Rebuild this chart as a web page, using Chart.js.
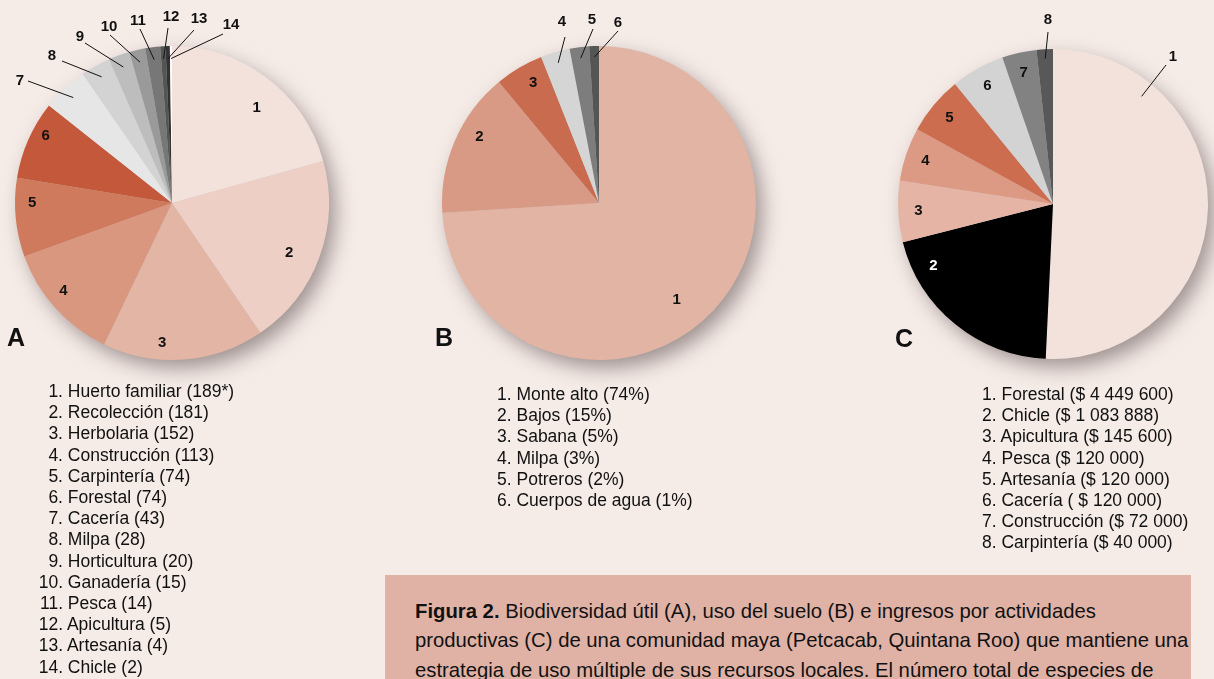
<!DOCTYPE html>
<html>
<head>
<meta charset="utf-8">
<script src="https://cdn.jsdelivr.net/npm/chart.js@4"></script>
<style>
body { margin: 0; width: 1214px; height: 679px; overflow: hidden; position: relative;
       background: #f5ebe7; font-family: "Liberation Sans", Arial, sans-serif; color: #111; }
canvas { position: absolute; }
.tag { position: absolute; font-weight: bold; font-size: 25px; line-height: 25px; }
.list { position: absolute; font-size: 17.5px; line-height: 21.2px; white-space: nowrap; }
.list .n { display: inline-block; text-align: right; }
.caption { position: absolute; left: 385px; top: 575px; width: 806px; height: 120px; background: #e0b2a6; }
.caption p { position: absolute; margin: 0; left: 30px; top: 22px; font-size: 20.3px; line-height: 29.3px; white-space: nowrap; }
</style>
</head>
<body>
<canvas id="pieA" width="420" height="420"></canvas>
<canvas id="pieB" width="420" height="420"></canvas>
<canvas id="pieC" width="420" height="420"></canvas>

<div class="tag" style="left:7px;top:325px">A</div>
<div class="tag" style="left:435px;top:325px">B</div>
<div class="tag" style="left:895px;top:326px">C</div>

<div class="list" id="listA" style="left:38px;top:381px"></div>
<div class="list" id="listB" style="left:497px;top:384px"></div>
<div class="list" id="listC" style="left:982px;top:384px"></div>

<div class="caption"><p><b>Figura 2.</b> Biodiversidad útil (A), uso del suelo (B) e ingresos por actividades<br>productivas (C) de una comunidad maya (Petcacab, Quintana Roo) que mantiene una<br>estrategia de uso múltiple de sus recursos locales. El número total de especies de</p></div>

<script>
// A: useful biodiversity (number of species per use)
const speciesUses = ['Huerto familiar', 'Recolección', 'Herbolaria', 'Construcción', 'Carpintería', 'Forestal', 'Cacería',
    'Milpa', 'Horticultura', 'Ganadería', 'Pesca', 'Apicultura', 'Artesanía', 'Chicle'];
const speciesCounts = [189, 181, 152, 113, 74, 74, 43, 28, 20, 15, 14, 5, 4, 2];

// B: land use (%)
const landUses = ['Monte alto', 'Bajos', 'Sabana', 'Milpa', 'Potreros', 'Cuerpos de agua'];
const landPercent = [74, 15, 5, 3, 2, 1];

// C: income by activity
const incomeActivities = ['Forestal', 'Chicle', 'Apicultura', 'Pesca', 'Artesanía', 'Cacería', 'Construcción', 'Carpintería'];
const incomeAmounts = ['$ 4 449 600', '$ 1 083 888', '$ 145 600', '$ 120 000', '$ 120 000', ' $ 120 000', '$ 72 000', '$ 40 000'];
// the slices in the figure are not drawn to the amounts above; share of the circle (%) as drawn
const incomeDrawnShare = [50.8, 20.3, 6.4, 5.6, 6.1, 5.6, 3.6, 1.7];

const coloursA = ['#f3e1db', '#edcfc5', '#e3b5a5', '#d9977f', '#d07a5d', '#c3593a', '#e6e6e6',
    '#d3d3d3', '#bdbdbd', '#9a9a9a', '#777777', '#555555', '#333333', '#ffffff'];
const coloursB = ['#e1b4a4', '#d89a84', '#c96b4e', '#d5d5d5', '#7d7d7d', '#555555'];
const coloursC = ['#f3e2dc', '#000000', '#e5b4a5', '#dc9a84', '#cc6d4f', '#d3d3d3', '#828282', '#585858'];

const SIZE = 420;

function pick(v, i, dflt) {
    if (Array.isArray(v)) return v[i] ?? dflt;
    return v ?? dflt;
}

// shadow under the pie, numbers inside the slices and callouts with leader lines
const pieDecor = {
    id: 'pieDecor',
    beforeDatasetsDraw(chart) {
        const a = chart.getDatasetMeta(0).data[0];
        const ctx = chart.ctx;
        ctx.save();
        ctx.shadowColor = 'rgba(70, 55, 55, 0.5)';
        ctx.shadowBlur = 20;
        ctx.shadowOffsetX = 7;
        ctx.shadowOffsetY = 9;
        ctx.fillStyle = '#cccccc';
        ctx.beginPath();
        ctx.arc(a.x, a.y, a.outerRadius - 1, 0, Math.PI * 2);
        ctx.fill();
        ctx.restore();
    },
    afterDatasetsDraw(chart, args, opts) {
        const ctx = chart.ctx;
        ctx.save();
        ctx.font = 'bold 15px "Liberation Sans", Arial, sans-serif';
        ctx.textAlign = 'center';
        ctx.textBaseline = 'middle';
        chart.getDatasetMeta(0).data.forEach((a, i) => {
            const co = opts.callouts[i + 1];
            if (co) {
                const ang = a.startAngle + (a.endAngle - a.startAngle) * (co.at ?? 0.5);
                const r = a.outerRadius * (co.r ?? 0.92);
                ctx.strokeStyle = '#111';
                ctx.lineWidth = 1;
                ctx.beginPath();
                ctx.moveTo(a.x + co.lx, a.y + co.ly);
                ctx.lineTo(a.x + Math.cos(ang) * r, a.y + Math.sin(ang) * r);
                ctx.stroke();
                ctx.fillStyle = '#111';
                ctx.fillText(String(i + 1), a.x + co.tx, a.y + co.ty);
            } else {
                const ang = a.startAngle + (a.endAngle - a.startAngle) * pick(opts.labelAt, i, 0.5);
                const r = a.outerRadius * pick(opts.labelRadius, i, 0.87);
                ctx.fillStyle = pick(opts.labelColours, i, '#111');
                ctx.fillText(String(i + 1), a.x + Math.cos(ang) * r, a.y + Math.sin(ang) * r);
            }
        });
        ctx.restore();
    }
};

function makePie(id, cx, cy, radius, values, colours, decor) {
    const el = document.getElementById(id);
    el.style.left = (cx - SIZE / 2) + 'px';
    el.style.top = (cy - SIZE / 2) + 'px';
    return new Chart(el.getContext('2d'), {
        type: 'pie',
        data: {
            labels: values.map((v, i) => String(i + 1)),
            datasets: [{
                data: values,
                backgroundColor: colours,
                borderWidth: 0,
                hoverOffset: 0
            }]
        },
        options: {
            responsive: false,
            animation: false,
            events: [],
            radius: radius,
            layout: { padding: 0 },
            plugins: {
                legend: { display: false },
                tooltip: { enabled: false },
                pieDecor: decor
            }
        },
        plugins: [pieDecor]
    });
}

makePie('pieA', 172, 203, 157, speciesCounts, coloursA, {
    labelRadius: [0.81, 0.81, 0.89, 0.89, 0.89, 0.91],
    labelAt: [0.56, 0.54, 0.64, 0.57, 0.68, 0.64],
    callouts: {
        7: { tx: -152, ty: -122, lx: -144, ly: -122 },
        8: { tx: -120, ty: -147, lx: -110, ly: -142 },
        9: { tx: -92, ty: -166, lx: -87, ly: -160 },
        10: { tx: -63, ty: -176, lx: -62, ly: -168 },
        11: { tx: -34, ty: -182, lx: -32, ly: -174 },
        12: { tx: -1, ty: -186, lx: -4, ly: -175 },
        13: { tx: 27, ty: -184, lx: 22, ly: -173 },
        14: { tx: 59, ty: -178, lx: 51, ly: -169 }
    }
});

makePie('pieB', 599, 203, 157, landPercent, coloursB, {
    labelRadius: [0.79, 0.87, 0.87],
    labelAt: [0.53, 0.6, 0.6],
    callouts: {
        4: { tx: -37, ty: -181, lx: -34, ly: -166, r: 0.93 },
        5: { tx: -7, ty: -183, lx: -6, ly: -174, r: 0.93 },
        6: { tx: 19, ty: -180, lx: 19, ly: -172, r: 0.93 }
    }
});

makePie('pieC', 1053, 204, 155, incomeDrawnShare, coloursC, {
    labelRadius: 0.87,
    labelAt: [0.5, 0.82],
    labelColours: ['#111', '#ffffff'],
    callouts: {
        1: { tx: 120, ty: -147, lx: 113, ly: -139, at: 0.216, r: 0.9 },
        8: { tx: -5, ty: -184, lx: -5, ly: -172, r: 0.94 }
    }
});

function fillList(id, names, amounts, numWidth) {
    const box = document.getElementById(id);
    box.innerHTML = names.map((name, i) => {
        const w = numWidth ? ' style="width:' + numWidth + 'px"' : '';
        return '<div><span class="n"' + w + '>' + (i + 1) + '.</span> ' + name + ' (' + amounts[i] + ')</div>';
    }).join('');
}

fillList('listA', speciesUses, speciesCounts.map((v, i) => i === 0 ? v + '*' : String(v)), 25);
fillList('listB', landUses, landPercent.map(v => v + '%'));
fillList('listC', incomeActivities, incomeAmounts);
</script>
</body>
</html>
